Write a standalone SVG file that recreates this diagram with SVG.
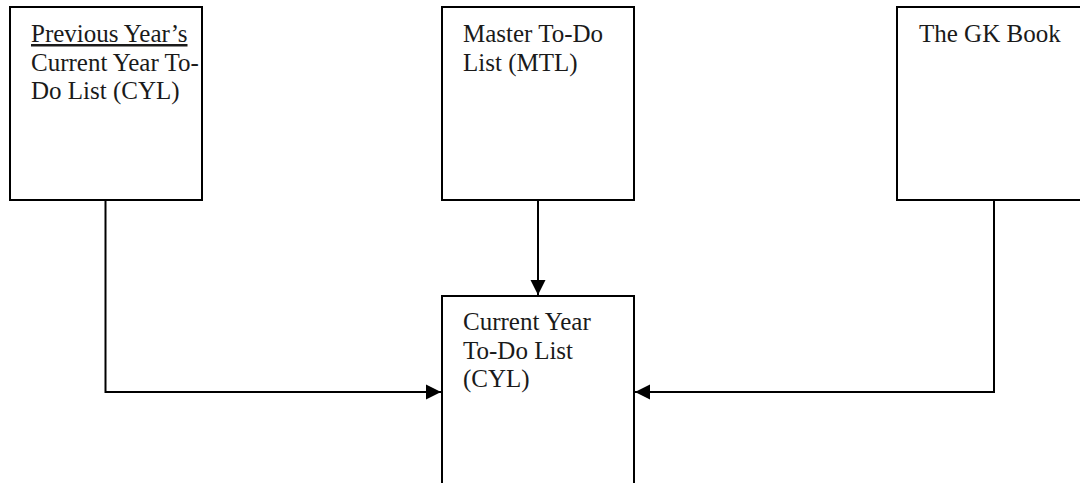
<svg xmlns="http://www.w3.org/2000/svg" width="1080" height="483" viewBox="0 0 1080 483">
  <defs>
    <style>
      .box { fill: #ffffff; stroke: #000000; stroke-width: 2; }
      .lbl { font-family: "Liberation Serif", "Times New Roman", serif; font-size: 25px; fill: #1a1a1a; }
      .conn { fill: none; stroke: #000000; stroke-width: 2; }
    </style>
    <marker id="arrow" markerUnits="userSpaceOnUse" markerWidth="18" markerHeight="18" refX="16" refY="8" orient="auto">
      <path d="M1,0.5 L16,8 L1,15.5 Z" fill="#000000"/>
    </marker>
  </defs>
  <rect width="1080" height="483" fill="#ffffff"/>

  <g id="connectors">
    <path class="conn" d="M105.5,200 V392 H441" marker-end="url(#arrow)"/>
    <path class="conn" d="M538,200 V295" marker-end="url(#arrow)"/>
    <path class="conn" d="M994,200 V392 H635" marker-end="url(#arrow)"/>
  </g>

  <g id="node-previous-cyl">
    <rect class="box" x="10" y="7" width="192" height="193"/>
    <text class="lbl" x="31" y="42" text-decoration="underline">Previous Year’s</text>
    <text class="lbl" x="31" y="70.5">Current Year To-</text>
    <text class="lbl" x="31" y="99">Do List (CYL)</text>
  </g>

  <g id="node-mtl">
    <rect class="box" x="442" y="7" width="192" height="193"/>
    <text class="lbl" x="463" y="42">Master To-Do</text>
    <text class="lbl" x="463" y="70.5">List (MTL)</text>
  </g>

  <g id="node-gk-book">
    <rect class="box" x="897" y="7" width="200" height="193"/>
    <text class="lbl" x="919" y="42">The GK Book</text>
  </g>

  <g id="node-current-cyl">
    <rect class="box" x="442" y="296" width="192" height="200"/>
    <text class="lbl" x="463" y="330">Current Year</text>
    <text class="lbl" x="463" y="358.5">To-Do List</text>
    <text class="lbl" x="463" y="387">(CYL)</text>
  </g>
</svg>
